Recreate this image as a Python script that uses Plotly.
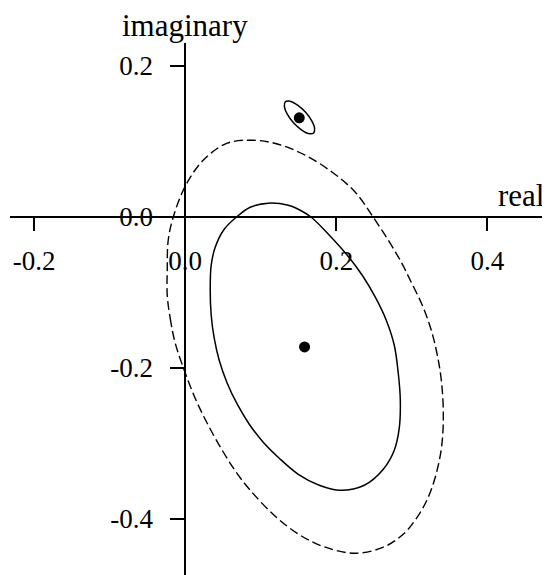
import plotly.graph_objects as go

# ------------------------------------------------------------
# Data
# ------------------------------------------------------------

# estimated points (real, imaginary)
point_re = [0.151, 0.158]
point_im = [0.131, -0.1725]

# small closed contour around the upper point
small_re = [0.1434, 0.1351, 0.1313, 0.1326, 0.1391, 0.1487, 0.1591, 0.1674,
            0.1713, 0.1699, 0.1634, 0.1538]
small_im = [0.1244, 0.1358, 0.1458, 0.1522, 0.1530, 0.1479, 0.1387, 0.1273,
            0.1172, 0.1109, 0.1101, 0.1151]

# inner (solid) contour
inner_re = [0.0331, 0.0344, 0.0384, 0.0450, 0.0556, 0.0689, 0.0848, 0.1033,
            0.1245, 0.1497, 0.1775, 0.2053, 0.2371, 0.2623, 0.2768, 0.2834,
            0.2848, 0.2821, 0.2768, 0.2662, 0.2517, 0.2344, 0.2146, 0.1921,
            0.1669, 0.1523, 0.1364, 0.1099, 0.0861, 0.0675, 0.0516, 0.0397,
            0.0344]
inner_im = [-0.0974, -0.1305, -0.1609, -0.1901, -0.2205, -0.2483, -0.2748, -0.2987,
            -0.3199, -0.3411, -0.3556, -0.3623, -0.3556, -0.3344, -0.3093, -0.2801,
            -0.2430, -0.2073, -0.1702, -0.1371, -0.1066, -0.0775, -0.0510, -0.0258,
            -0.0007, 0.0086, 0.0152, 0.0179, 0.0126, -0.0007, -0.0166, -0.0404,
            -0.0642]

# outer (dashed) contour
outer_re = [-0.0238, -0.0199, -0.0132, -0.0013, 0.0132, 0.0291, 0.0490, 0.0675,
            0.0861, 0.1192, 0.1523, 0.1854, 0.2252, 0.2623, 0.2901, 0.3113,
            0.3245, 0.3351, 0.3404, 0.3417, 0.3391, 0.3338, 0.3258, 0.3139,
            0.2980, 0.2861, 0.2689, 0.2490, 0.2252, 0.1947, 0.1589, 0.1232,
            0.0901, 0.0556, 0.0238, 0.0000, -0.0159, -0.0225, -0.0238]
outer_im = [-0.1040, -0.1344, -0.1675, -0.2033, -0.2404, -0.2735, -0.3093, -0.3384,
            -0.3623, -0.3967, -0.4219, -0.4377, -0.4457, -0.4377, -0.4192, -0.3914,
            -0.3649, -0.3291, -0.2960, -0.2563, -0.2166, -0.1834, -0.1503, -0.1172,
            -0.0841, -0.0603, -0.0311, -0.0007, 0.0325, 0.0589, 0.0815, 0.0960,
            0.1013, 0.0974, 0.0748, 0.0404, -0.0007, -0.0311, -0.0709]

x_ticks = [-0.2, 0.0, 0.2, 0.4]
x_tick_text = ["-0.2", "0.0", "0.2", "0.4"]
y_ticks = [-0.4, -0.2, 0.0, 0.2]
y_tick_text = ["-0.4", "-0.2", "0.0", "0.2"]

x_range = [-0.232, 0.483]
y_range = [-0.4745, 0.2301]

FONT = "Liberation Serif, Times New Roman, serif"


def closed(vals):
    return vals + vals[:1]


fig = go.Figure()

fig.add_trace(go.Scatter(
    x=closed(outer_re), y=closed(outer_im), mode="lines",
    line=dict(color="black", width=1.4, dash="9px,4px", shape="spline"),
    hoverinfo="skip"
))

fig.add_trace(go.Scatter(
    x=closed(inner_re), y=closed(inner_im), mode="lines",
    line=dict(color="black", width=1.5, shape="spline"),
    hoverinfo="skip"
))

fig.add_trace(go.Scatter(
    x=closed(small_re), y=closed(small_im), mode="lines",
    line=dict(color="black", width=1.5, shape="spline"),
    hoverinfo="skip"
))

fig.add_trace(go.Scatter(
    x=point_re, y=point_im, mode="markers",
    marker=dict(color="black", size=11),
    hoverinfo="skip"
))

# axes cross at the origin
x_pos = (0 - y_range[0]) / (y_range[1] - y_range[0])
y_pos = (0 - x_range[0]) / (x_range[1] - x_range[0])

fig.update_xaxes(
    range=x_range, anchor="free", position=x_pos,
    showgrid=False, zeroline=False,
    showline=True, linecolor="black", linewidth=1.5,
    ticks="outside", ticklen=14, tickwidth=1.5, tickcolor="black",
    tickvals=x_ticks, ticktext=x_tick_text, ticklabelstandoff=6,
    tickfont=dict(family=FONT, size=27, color="black"),
    automargin=False
)

fig.update_yaxes(
    range=y_range, anchor="free", position=y_pos,
    showgrid=False, zeroline=False,
    showline=True, linecolor="black", linewidth=1.5,
    ticks="outside", ticklen=14, tickwidth=1.5, tickcolor="black",
    tickvals=y_ticks, ticktext=y_tick_text, ticklabelstandoff=12,
    tickfont=dict(family=FONT, size=27, color="black"),
    automargin=False
)

fig.add_annotation(
    text="imaginary", x=0.0, y=1.0, xref="x", yref="paper",
    xanchor="center", yanchor="bottom", yshift=-2, showarrow=False,
    font=dict(family=FONT, size=31, color="black")
)

fig.add_annotation(
    text="real", x=1.0, y=0.0, xref="paper", yref="y",
    xanchor="right", yanchor="bottom", yshift=2, xshift=-4, showarrow=False,
    font=dict(family=FONT, size=31, color="black")
)

# the page body adds an 8px margin, so the figure is 8px smaller
fig.update_layout(
    width=542, height=567,
    margin=dict(l=2, r=0, t=35, b=0),
    paper_bgcolor="white", plot_bgcolor="white",
    showlegend=False
)

fig.write_html("out.html")
